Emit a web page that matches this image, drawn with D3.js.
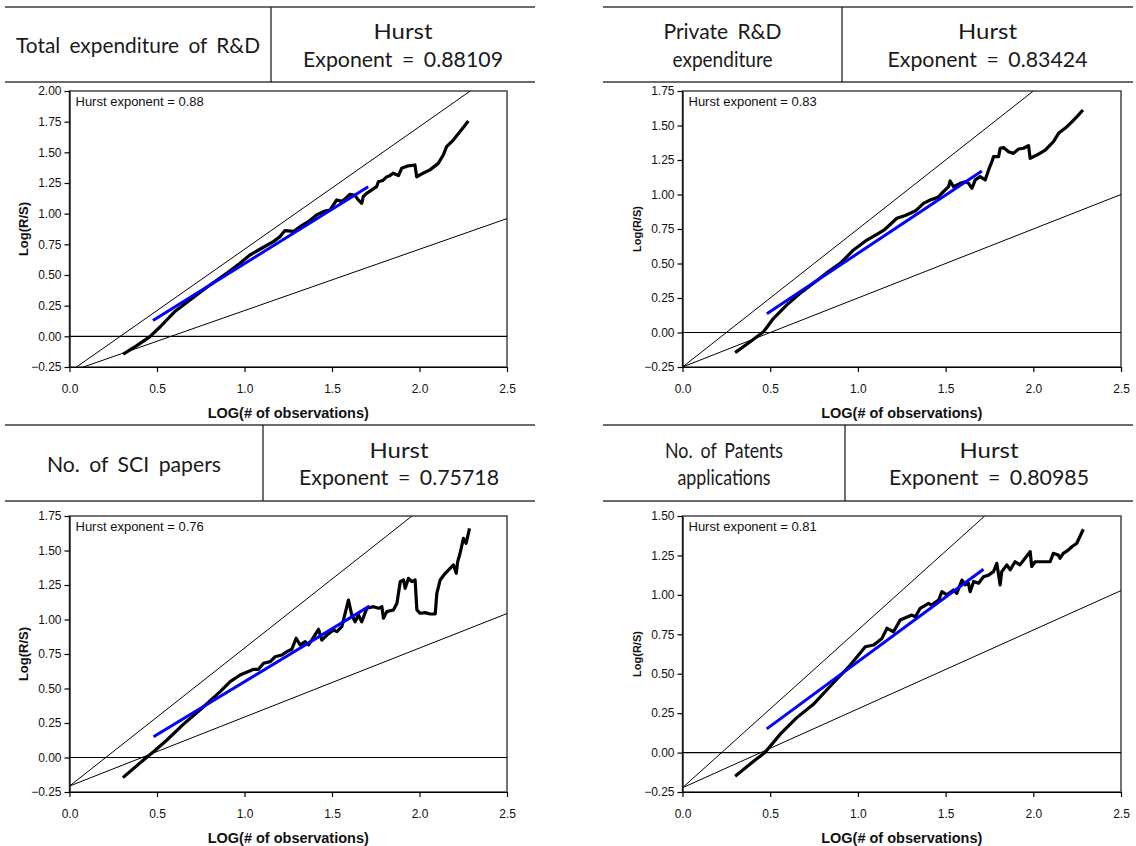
<!DOCTYPE html>
<html>
<head>
<meta charset="utf-8">
<script src="https://cdn.jsdelivr.net/npm/d3@7"></script>
<style>
  body { margin: 0; background: #fff; }
</style>
</head>
<body>
<script>
// ---- data ----
const panelNames = [["Total expenditure of R&D"], ["Private R&D", "expenditure"], ["No. of SCI papers"], ["No. of Patents", "applications"]];
const hurstExact = ["0.88109", "0.83424", "0.75718", "0.80985"];
const hurstShort = ["0.88", "0.83", "0.76", "0.81"];
const xTicks = [0, 0.5, 1.0, 1.5, 2.0, 2.5];
const yTicks1 = [-0.25, 0, 0.25, 0.5, 0.75, 1.0, 1.25, 1.5, 1.75, 2.0];
const yTicks2 = [-0.25, 0, 0.25, 0.5, 0.75, 1.0, 1.25, 1.5, 1.75];
const yTicks3 = [-0.25, 0, 0.25, 0.5, 0.75, 1.0, 1.25, 1.5, 1.75];
const yTicks4 = [-0.25, 0, 0.25, 0.5, 0.75, 1.0, 1.25, 1.5];

// LOG(# of observations) / Log(R/S) for each series
const rdTotalX = [0.307, 0.38, 0.458, 0.52, 0.6, 0.683, 0.785, 0.908, 0.974, 1.031, 1.098, 1.165, 1.203, 1.231, 1.28, 1.317, 1.365, 1.412, 1.46, 1.489, 1.527, 1.555, 1.574, 1.603, 1.631, 1.65, 1.67, 1.679, 1.698, 1.755, 1.765, 1.79, 1.812, 1.83, 1.85, 1.88, 1.898, 1.936, 1.974, 1.984, 2.02, 2.06, 2.107, 2.136, 2.155, 2.193, 2.231, 2.279];
const rdTotalY = [-0.145, -0.08, -0.005, 0.08, 0.2, 0.29, 0.4, 0.525, 0.596, 0.663, 0.718, 0.772, 0.813, 0.862, 0.855, 0.894, 0.935, 0.99, 1.022, 1.03, 1.112, 1.10, 1.12, 1.158, 1.15, 1.112, 1.085, 1.14, 1.166, 1.22, 1.26, 1.27, 1.30, 1.31, 1.33, 1.31, 1.37, 1.39, 1.397, 1.30, 1.33, 1.357, 1.41, 1.478, 1.546, 1.60, 1.668, 1.755];

const rdPrivateX = [0.30, 0.386, 0.462, 0.519, 0.595, 0.671, 0.75, 0.82, 0.899, 0.975, 1.051, 1.118, 1.15, 1.222, 1.27, 1.327, 1.374, 1.412, 1.44, 1.46, 1.478, 1.517, 1.526, 1.545, 1.583, 1.612, 1.631, 1.65, 1.669, 1.697, 1.726, 1.745, 1.764, 1.773, 1.802, 1.811, 1.83, 1.859, 1.887, 1.916, 1.944, 1.973, 1.982, 2.02, 2.068, 2.115, 2.144, 2.192, 2.22, 2.249, 2.283];
const rdPrivateY = [-0.146, -0.067, 0.006, 0.103, 0.2, 0.284, 0.36, 0.43, 0.501, 0.598, 0.67, 0.719, 0.743, 0.828, 0.848, 0.88, 0.936, 0.96, 0.972, 0.984, 1.009, 1.057, 1.098, 1.057, 1.081, 1.093, 1.081, 1.045, 1.106, 1.129, 1.106, 1.178, 1.238, 1.274, 1.274, 1.335, 1.34, 1.31, 1.298, 1.33, 1.335, 1.354, 1.262, 1.286, 1.322, 1.383, 1.443, 1.491, 1.527, 1.564, 1.612];

const sciPapersX = [0.305, 0.423, 0.48, 0.557, 0.65, 0.75, 0.861, 0.918, 0.975, 1.052, 1.08, 1.109, 1.147, 1.175, 1.213, 1.242, 1.27, 1.295, 1.318, 1.347, 1.366, 1.385, 1.423, 1.442, 1.471, 1.509, 1.528, 1.556, 1.594, 1.613, 1.632, 1.651, 1.67, 1.699, 1.737, 1.766, 1.785, 1.794, 1.813, 1.851, 1.871, 1.89, 1.909, 1.918, 1.937, 1.956, 1.975, 1.985, 2.004, 2.032, 2.061, 2.09, 2.099, 2.118, 2.147, 2.175, 2.194, 2.21, 2.218, 2.232, 2.251, 2.266, 2.286];
const sciPapersY = [-0.146, -0.018, 0.042, 0.127, 0.24, 0.35, 0.477, 0.55, 0.598, 0.639, 0.639, 0.683, 0.695, 0.73, 0.743, 0.767, 0.784, 0.864, 0.816, 0.839, 0.816, 0.852, 0.929, 0.851, 0.887, 0.924, 0.912, 0.948, 1.141, 1.033, 0.984, 1.033, 0.984, 1.081, 1.093, 1.081, 1.093, 1.009, 1.057, 1.069, 1.117, 1.274, 1.286, 1.226, 1.298, 1.274, 1.286, 1.069, 1.045, 1.05, 1.04, 1.04, 1.19, 1.286, 1.335, 1.371, 1.395, 1.335, 1.419, 1.48, 1.588, 1.552, 1.66];

const patentsX = [0.30, 0.40, 0.47, 0.56, 0.65, 0.75, 0.85, 0.957, 1.042, 1.09, 1.137, 1.166, 1.203, 1.241, 1.308, 1.327, 1.355, 1.403, 1.42, 1.46, 1.479, 1.507, 1.545, 1.564, 1.593, 1.612, 1.63, 1.64, 1.66, 1.688, 1.716, 1.745, 1.773, 1.792, 1.811, 1.82, 1.849, 1.868, 1.896, 1.924, 1.953, 1.982, 1.991, 2.01, 2.096, 2.114, 2.142, 2.152, 2.171, 2.199, 2.22, 2.248, 2.285];
const patentsY = [-0.15, -0.06, 0.0, 0.12, 0.22, 0.31, 0.43, 0.555, 0.671, 0.682, 0.724, 0.788, 0.766, 0.84, 0.872, 0.86, 0.915, 0.946, 0.935, 0.967, 1.02, 1.0, 1.031, 1.01, 1.094, 1.064, 1.074, 1.02, 1.085, 1.074, 1.115, 1.125, 1.147, 1.2, 1.063, 1.147, 1.19, 1.158, 1.21, 1.19, 1.232, 1.274, 1.18, 1.21, 1.21, 1.263, 1.253, 1.232, 1.263, 1.284, 1.305, 1.327, 1.416];

// fitted regression segment (blue), start / end points
const fitLines = [
    [[0.477, 0.129], [1.707, 1.22]],
    [[0.481, 0.136], [1.707, 1.17]],
    [[0.48, 0.15], [1.714, 1.097]],
    [[0.48, 0.15], [1.716, 1.162]]
];
// reference lines H = 1 and H = 0.5 through the fitted intercept
const refSteep = [
    [[0, -0.29], [2.29, 2.0]],
    [[0, -0.25], [2.0, 1.75]],
    [[0, -0.207], [1.957, 1.75]],
    [[0, -0.223], [1.723, 1.5]]
];
const refFlat = [
    [[0, -0.29], [2.5, 0.96]],
    [[0, -0.25], [2.5, 1.0]],
    [[0, -0.207], [2.5, 1.043]],
    [[0, -0.223], [2.5, 1.027]]
];

const seriesX = [rdTotalX, rdPrivateX, sciPapersX, patentsX];
const seriesY = [rdTotalY, rdPrivateY, sciPapersY, patentsY];
const yTickSets = [yTicks1, yTicks2, yTicks3, yTicks4];

// ---- layout (pixel positions of each panel) ----
const panels = [
    {head: {x0: 5, x1: 535, y0: 7, y1: 82, div: 271}, plot: {l: 69.5, r: 507, t: 91, b: 367},
     leftW: [244], yTitleSize: 13},
    {head: {x0: 603, x1: 1133, y0: 7, y1: 82, div: 842}, plot: {l: 682.5, r: 1121, t: 91, b: 367},
     leftW: [118, 100], yTitleSize: 11},
    {head: {x0: 5, x1: 535, y0: 425, y1: 501, div: 263}, plot: {l: 69.5, r: 507, t: 516, b: 792},
     leftW: [174], yTitleSize: 13},
    {head: {x0: 603, x1: 1133, y0: 425, y1: 501, div: 845}, plot: {l: 682.5, r: 1121, t: 516, b: 792},
     leftW: [118, 93], yTitleSize: 11}
];

const W = 1136, H = 846;
const headFont = "Lato, 'Noto Sans', sans-serif";
const axisFont = "'Liberation Sans', Arial, sans-serif";

const svg = d3.select("body").append("svg")
    .attr("width", W)
    .attr("height", H)
    .style("font-family", axisFont);

panels.forEach((p, i) => drawPanel(p, i));

function drawPanel(p, i) {
    const g = svg.append("g");
    const h = p.head;

    // --- header table: two rules and a divider ---
    g.append("g")
        .attr("stroke", "#3a3a3a")
        .attr("stroke-width", 1.3)
        .selectAll("line")
        .data([h.y0, h.y1])
        .join("line")
        .attr("x1", h.x0).attr("x2", h.x1)
        .attr("y1", d => d).attr("y2", d => d);
    g.append("line")
        .attr("x1", h.div).attr("x2", h.div)
        .attr("y1", h.y0).attr("y2", h.y1)
        .attr("stroke", "#111")
        .attr("stroke-width", 1.2);

    const midY = (h.y0 + h.y1) / 2;
    headerText(g, panelNames[i], p.leftW, (h.x0 + h.div) / 2, midY);
    headerText(g, ["Hurst", "Exponent = " + hurstExact[i]], [59, 200], (h.div + h.x1) / 2, midY);

    // --- scales ---
    const pl = p.plot;
    const yt = yTickSets[i];
    const x = d3.scaleLinear().domain([xTicks[0], xTicks[xTicks.length - 1]]).range([pl.l, pl.r]);
    const y = d3.scaleLinear().domain([yt[0], yt[yt.length - 1]]).range([pl.b, pl.t]);

    const clipId = "clip" + i;
    svg.append("clipPath").attr("id", clipId)
        .append("rect")
        .attr("x", pl.l).attr("y", pl.t)
        .attr("width", pl.r - pl.l).attr("height", pl.b - pl.t);

    // plot frame
    g.append("rect")
        .attr("x", pl.l).attr("y", pl.t)
        .attr("width", pl.r - pl.l).attr("height", pl.b - pl.t)
        .attr("fill", "none")
        .attr("stroke", "#444")
        .attr("stroke-width", 1.5);

    const line = d3.line().x(d => x(d[0])).y(d => y(d[1]));
    const marks = g.append("g").attr("clip-path", `url(#${clipId})`);

    // zero line
    marks.append("line")
        .attr("x1", pl.l).attr("x2", pl.r)
        .attr("y1", y(0)).attr("y2", y(0))
        .attr("stroke", "#000")
        .attr("stroke-width", 1.2);

    // H = 1 and H = 0.5 guides
    marks.selectAll(".ref")
        .data([refSteep[i], refFlat[i]])
        .join("path")
        .attr("class", "ref")
        .attr("d", line)
        .attr("fill", "none")
        .attr("stroke", "#000")
        .attr("stroke-width", 1);

    // R/S curve
    marks.append("path")
        .datum(d3.zip(seriesX[i], seriesY[i]))
        .attr("d", line)
        .attr("fill", "none")
        .attr("stroke", "#000")
        .attr("stroke-width", 3.2)
        .attr("stroke-linejoin", "round");

    // regression segment
    marks.append("path")
        .datum(fitLines[i])
        .attr("d", line)
        .attr("fill", "none")
        .attr("stroke", "#0000ff")
        .attr("stroke-width", 3);

    // --- axes ---
    const yAxis = g.append("g")
        .attr("transform", `translate(${pl.l},0)`)
        .call(d3.axisLeft(y).tickValues(yt).tickFormat(d3.format(".2f"))
            .tickSize(5).tickSizeOuter(0).tickPadding(3));
    const xAxis = g.append("g")
        .attr("transform", `translate(0,${pl.b})`)
        .call(d3.axisBottom(x).tickValues(xTicks).tickFormat(d3.format(".1f"))
            .tickSize(5).tickSizeOuter(0).tickPadding(12));
    [yAxis, xAxis].forEach(a => {
        a.attr("font-family", axisFont).attr("font-size", 12);
        a.selectAll("text").attr("fill", "#111");
        a.selectAll("line, path").attr("stroke", "#000").attr("stroke-width", 1.2);
    });

    // axis titles
    g.append("text")
        .attr("x", (pl.l + pl.r) / 2)
        .attr("y", pl.b + 46)
        .attr("text-anchor", "middle")
        .attr("dominant-baseline", "central")
        .attr("font-weight", "bold")
        .attr("font-size", 14.5)
        .attr("fill", "#111")
        .text("LOG(# of observations)");
    g.append("text")
        .attr("transform", `translate(${pl.l - 46},${(pl.t + pl.b) / 2}) rotate(-90)`)
        .attr("text-anchor", "middle")
        .attr("dominant-baseline", "central")
        .attr("font-weight", "bold")
        .attr("font-size", p.yTitleSize)
        .attr("fill", "#111")
        .text("Log(R/S)");

    // in-plot annotation
    g.append("text")
        .attr("x", pl.l + 6)
        .attr("y", pl.t + 10)
        .attr("dominant-baseline", "central")
        .attr("font-size", 13)
        .attr("fill", "#111")
        .text("Hurst exponent = " + hurstShort[i]);
}

// one or two centred lines inside a header cell
function headerText(g, lines, widths, cx, cy) {
    const gap = 27.5;
    const y0 = cy - gap * (lines.length - 1) / 2;
    g.append("g")
        .selectAll("text")
        .data(lines)
        .join("text")
        .attr("x", cx)
        .attr("y", (d, k) => y0 + k * gap)
        .attr("text-anchor", "middle")
        .attr("dominant-baseline", "central")
        .attr("font-family", headFont)
        .attr("font-size", 21)
        .attr("word-spacing", 4)
        .attr("fill", "#1a1a1a")
        .attr("textLength", (d, k) => widths[k])
        .attr("lengthAdjust", "spacingAndGlyphs")
        .text(d => d);
}
</script>
</body>
</html>
